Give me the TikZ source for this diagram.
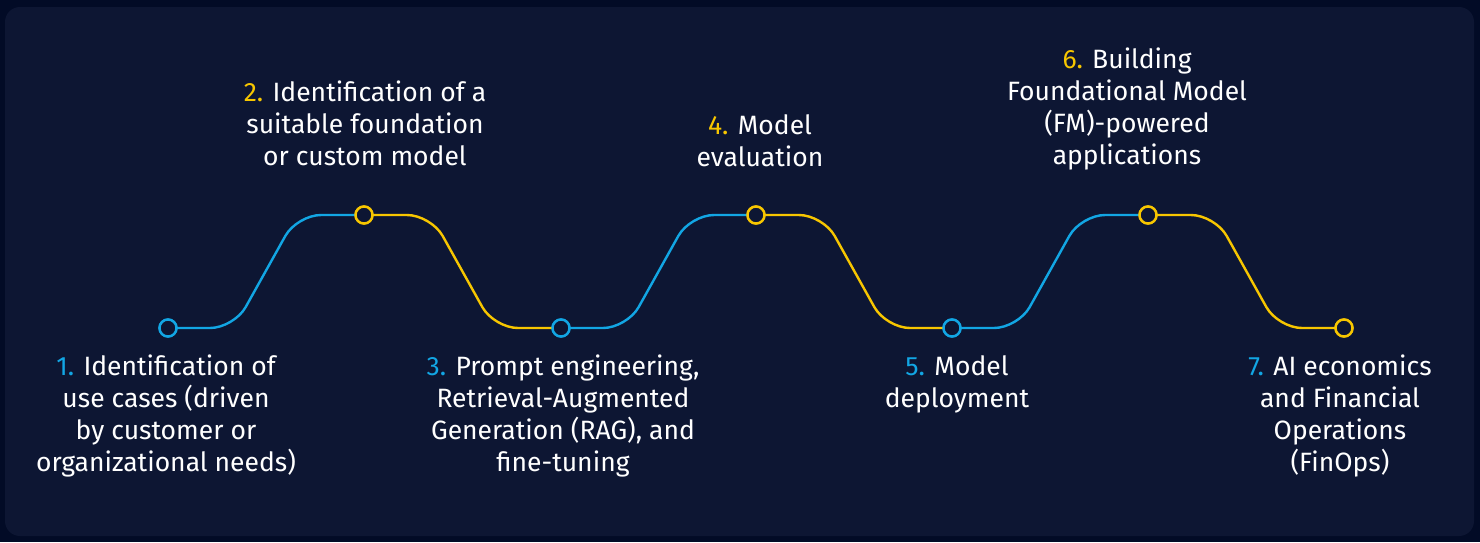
\documentclass[tikz,border=0pt]{standalone}
\usepackage{fontspec}
\setmainfont{Fira Sans}
\definecolor{outerbg}{HTML}{020B26}
\definecolor{panelbg}{HTML}{0D1633}
\definecolor{stepblue}{HTML}{12A6E4}
\definecolor{stepyellow}{HTML}{F7C600}
\tikzset{
  bluelink/.style={draw=stepblue, line width=2.4pt, rounded corners=24pt},
  yellowlink/.style={draw=stepyellow, line width=2.4pt, rounded corners=24pt},
  dotblue/.style={circle, draw=stepblue, fill=panelbg, line width=2.4pt, minimum size=17pt, inner sep=0pt},
  dotyellow/.style={circle, draw=stepyellow, fill=panelbg, line width=2.4pt, minimum size=17pt, inner sep=0pt},
  label/.style={text=white, align=center, inner sep=0pt, font=\fontsize{26.5}{32}\selectfont},
}
\newcommand{\nb}[1]{\textcolor{stepblue}{#1}}
\newcommand{\ny}[1]{\textcolor{stepyellow}{#1}}
\begin{document}
\begin{tikzpicture}[x=1pt, y=-1pt]
  % backdrop and panel
  \fill[outerbg] (0,0) rectangle (1480,542);
  \useasboundingbox (0,0) rectangle (1480,542);
  \fill[panelbg, rounded corners=15pt] (5,7) rectangle (1474,536);

  % milestones
  \node[dotblue]   (p1) at (168,328) {};
  \node[dotyellow] (p2) at (364,215) {};
  \node[dotblue]   (p3) at (561,328) {};
  \node[dotyellow] (p4) at (756,215) {};
  \node[dotblue]   (p5) at (952,328) {};
  \node[dotyellow] (p6) at (1148,215) {};
  \node[dotyellow] (p7) at (1344,328) {};

  % connecting track
  \draw[bluelink]   (p1.center) -- ++(66,0) -- ++(63,-113) -- (p2.center);
  \draw[yellowlink] (p2.center) -- ++(67,0) -- ++(63,113) -- (p3.center);
  \draw[bluelink]   (p3.center) -- ++(66,0) -- ++(63,-113) -- (p4.center);
  \draw[yellowlink] (p4.center) -- ++(67,0) -- ++(63,113) -- (p5.center);
  \draw[bluelink]   (p5.center) -- ++(66,0) -- ++(63,-113) -- (p6.center);
  \draw[yellowlink] (p6.center) -- ++(67,0) -- ++(63,113) -- (p7.center);

  % rings drawn again over the track
  \node[dotblue]   at (p1) {};
  \node[dotyellow] at (p2) {};
  \node[dotblue]   at (p3) {};
  \node[dotyellow] at (p4) {};
  \node[dotblue]   at (p5) {};
  \node[dotyellow] at (p6) {};
  \node[dotyellow] at (p7) {};

  % step descriptions
  \node[label, anchor=north] (t1) at (166,355) {\nb{1.} Identification of\\use cases (driven\\by customer or\\organizational needs)};
  \node[label, anchor=north] (t2) at (365,81) {\ny{2.} Identification of a\\suitable foundation\\or custom model};
  \node[label, anchor=north] (t3) at (563,355) {\nb{3.} Prompt engineering,\\Retrieval-Augmented\\Generation (RAG), and\\fine-tuning};
  \node[label, anchor=north] (t4) at (760,114) {\ny{4.} Model\\evaluation};
  \node[label, anchor=north] (t5) at (957,355) {\nb{5.} Model\\deployment};
  \node[label, anchor=north] (t6) at (1127,48) {\ny{6.} Building\\Foundational Model\\(FM)-powered\\applications};
  \node[label, anchor=north] (t7) at (1340,355) {\nb{7.} AI economics\\and Financial\\Operations\\(FinOps)};
\end{tikzpicture}
\end{document}
